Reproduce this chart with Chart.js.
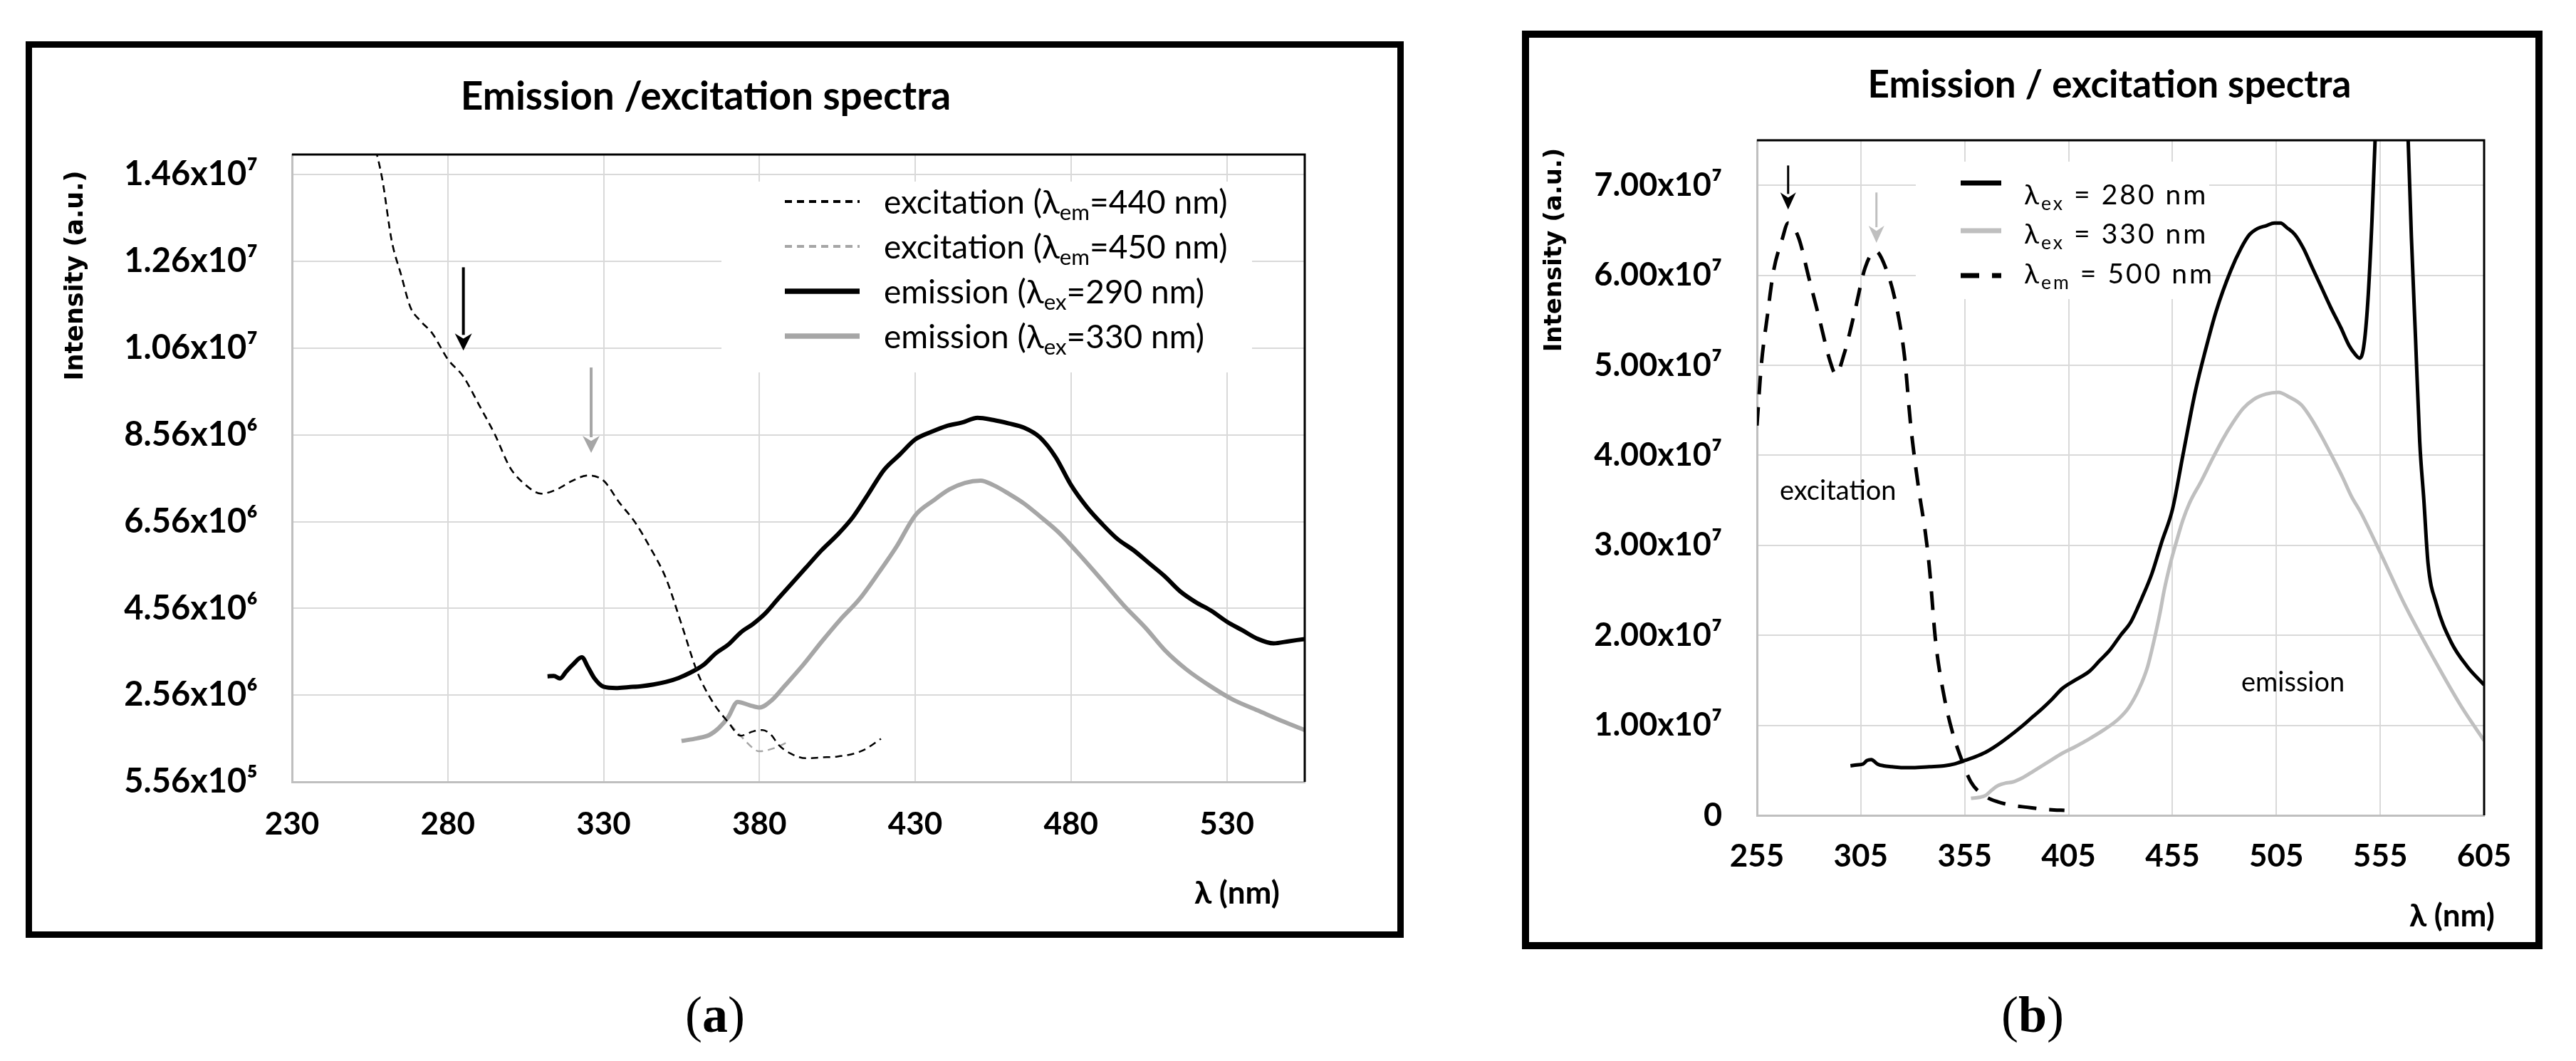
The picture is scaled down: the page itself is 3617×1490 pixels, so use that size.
<!DOCTYPE html>
<html>
<head>
<meta charset="utf-8">
<script src="https://cdn.jsdelivr.net/npm/chart.js@4.4.1/dist/chart.umd.min.js"></script>
<style>
  html, body { margin: 0; padding: 0; background: #fff; }
  body { width: 3617px; height: 1490px; position: relative; overflow: hidden; }
  .panel { position: absolute; border: 9px solid #000; background: #fff; }
  #panelA { left: 36px; top: 58px; width: 1917px; height: 1241px; }
  #panelB { left: 2137px; top: 43px; width: 1413px; height: 1270px; border-width: 10px; }
  .panel canvas { display: block; }
  .tag { position: absolute; top: 1384px; width: 200px; line-height: 84px; text-align: center;
         font: 72px "Liberation Serif", "DejaVu Serif", serif; color: #000; }
  #tagA { left: 904px; }
  #tagB { left: 2754px; }
</style>
</head>
<body>
<div class="panel" id="panelA"><canvas id="chartA" width="1917" height="1241" style="width:1917px;height:1241px"></canvas></div>
<div class="panel" id="panelB"><canvas id="chartB" width="1413" height="1270" style="width:1413px;height:1270px"></canvas></div>
<div class="tag" id="tagA">(<b>a</b>)</div>
<div class="tag" id="tagB">(<b>b</b>)</div>
<script>
// ---- panel (a) ----
const xTicksA = [230, 280, 330, 380, 430, 480, 530];
const yTicksA = [5.56e5, 2.556e6, 4.556e6, 6.556e6, 8.556e6, 1.0556e7, 1.2556e7, 1.4556e7];
const yTickLabelsA = ['5.56x10⁵', '2.56x10⁶', '4.56x10⁶', '6.56x10⁶', '8.56x10⁶', '1.06x10⁷', '1.26x10⁷', '1.46x10⁷'];

const excA440Nm = [256, 259, 262, 265, 268, 271, 275, 280, 285, 290, 295, 300, 305, 310, 315, 320, 325, 330, 335, 340,
  345, 350, 355, 360, 365, 370, 374, 378, 381, 384, 386, 390, 395, 400, 405, 410, 414, 419];
const excA440Val = [15.4e6, 14.44e6, 13.03e6, 12.25e6, 11.5e6, 11.2e6, 10.9e6, 10.3e6, 9.9e6, 9.25e6, 8.58e6, 7.8e6, 7.4e6, 7.2e6, 7.3e6, 7.5e6, 7.62e6, 7.5e6, 7.0e6, 6.55e6,
  5.95e6, 5.25e6, 4.19e6, 3.1e6, 2.4e6, 1.93e6, 1.62e6, 1.72e6, 1.75e6, 1.62e6, 1.42e6, 1.21e6, 1.1e6, 1.12e6, 1.14e6, 1.2e6, 1.31e6, 1.55e6];

const excA450Nm = [256, 259, 262, 265, 268, 271, 275, 280, 285, 290, 295, 300, 305, 310, 315, 320, 325, 330, 335, 340,
  345, 350, 355, 360, 365, 370, 374, 376, 380, 385, 389];
const excA450Val = [15.4e6, 14.44e6, 13.03e6, 12.25e6, 11.5e6, 11.2e6, 10.9e6, 10.3e6, 9.9e6, 9.25e6, 8.58e6, 7.8e6, 7.4e6, 7.2e6, 7.3e6, 7.5e6, 7.62e6, 7.5e6, 7.0e6, 6.55e6,
  5.95e6, 5.25e6, 4.19e6, 3.1e6, 2.4e6, 1.93e6, 1.62e6, 1.46e6, 1.26e6, 1.34e6, 1.47e6];

const emA290Nm = [312, 314, 316, 318, 320, 323, 325, 327, 330, 334, 338, 342, 346, 350, 354, 358, 362, 366, 370, 374,
  378, 382, 386, 390, 395, 400, 405, 410, 415, 420, 425, 430, 435, 440, 445, 450, 455, 460, 465, 470,
  475, 480, 485, 490, 495, 500, 505, 510, 515, 520, 525, 530, 535, 540, 545, 550, 555];
const emA290Val = [2.99e6, 3.0e6, 2.94e6, 3.1e6, 3.25e6, 3.43e6, 3.2e6, 2.95e6, 2.75e6, 2.72e6, 2.74e6, 2.76e6, 2.8e6, 2.86e6, 2.95e6, 3.08e6, 3.25e6, 3.52e6, 3.72e6, 4.0e6,
  4.2e6, 4.45e6, 4.78e6, 5.1e6, 5.5e6, 5.9e6, 6.25e6, 6.66e6, 7.2e6, 7.75e6, 8.1e6, 8.45e6, 8.62e6, 8.76e6, 8.84e6, 8.95e6, 8.9e6, 8.82e6, 8.72e6, 8.5e6,
  8.05e6, 7.4e6, 6.9e6, 6.5e6, 6.15e6, 5.9e6, 5.6e6, 5.3e6, 4.95e6, 4.7e6, 4.5e6, 4.25e6, 4.05e6, 3.85e6, 3.75e6, 3.8e6, 3.85e6];

const emA330Nm = [355, 360, 364, 367, 370, 373, 377, 380, 384, 388, 394, 400, 406, 412, 418, 424, 430, 436, 441, 446,
  451, 455, 460, 465, 470, 476, 482, 490, 497, 504, 510, 517, 525, 532, 540, 548, 555];
const emA330Val = [1.5e6, 1.56e6, 1.64e6, 1.8e6, 2.05e6, 2.4e6, 2.32e6, 2.27e6, 2.44e6, 2.76e6, 3.25e6, 3.79e6, 4.3e6, 4.76e6, 5.35e6, 5.98e6, 6.7e6, 7.05e6, 7.3e6, 7.45e6,
  7.5e6, 7.4e6, 7.2e6, 6.97e6, 6.68e6, 6.31e6, 5.85e6, 5.2e6, 4.62e6, 4.1e6, 3.6e6, 3.15e6, 2.75e6, 2.45e6, 2.2e6, 1.95e6, 1.75e6];

const arrowXA = [285, 326];
const arrowFromA = [12.42e6, 10.11e6];
const arrowToA = [10.5e6, 8.14e6];

// ---- panel (b) ----
const xTicksB = [255, 305, 355, 405, 455, 505, 555, 605];
const yTicksB = [0, 1e7, 2e7, 3e7, 4e7, 5e7, 6e7, 7e7];
const yTickLabelsB = ['0', '1.00x10⁷', '2.00x10⁷', '3.00x10⁷', '4.00x10⁷', '5.00x10⁷', '6.00x10⁷', '7.00x10⁷'];

const emB280Nm = [300, 303, 306, 308, 310, 313, 316, 320, 325, 330, 338, 345, 350, 355, 360, 365, 370, 376, 382, 388,
  392, 397, 402, 408, 415, 420, 425, 430, 435, 440, 445, 450, 455, 460, 466, 471, 476, 483, 488, 492,
  496, 500, 504, 507, 510, 514, 518, 522, 527, 531, 536, 540, 543, 545, 547, 549, 551, 553, 560, 568,
  570, 572, 574, 576, 578, 582, 589, 597, 605];
const emB280Val = [0.55e7, 0.56e7, 0.57e7, 0.61e7, 0.62e7, 0.57e7, 0.55e7, 0.54e7, 0.53e7, 0.53e7, 0.54e7, 0.55e7, 0.57e7, 0.61e7, 0.65e7, 0.7e7, 0.77e7, 0.87e7, 0.98e7, 1.1e7,
  1.18e7, 1.29e7, 1.41e7, 1.5e7, 1.6e7, 1.72e7, 1.84e7, 2.0e7, 2.15e7, 2.4e7, 2.68e7, 3.05e7, 3.4e7, 4.0e7, 4.71e7, 5.18e7, 5.6e7, 6.05e7, 6.3e7, 6.45e7,
  6.52e7, 6.55e7, 6.58e7, 6.58e7, 6.53e7, 6.45e7, 6.3e7, 6.1e7, 5.85e7, 5.65e7, 5.42e7, 5.22e7, 5.12e7, 5.08e7, 5.2e7, 5.7e7, 6.6e7, 7.8e7, 12.0e7, 7.8e7,
  6.42e7, 5.29e7, 4.15e7, 3.5e7, 2.8e7, 2.35e7, 1.93e7, 1.65e7, 1.45e7];

const emB330Nm = [358, 362, 365, 368, 371, 375, 378, 383, 388, 395, 402, 408, 415, 422, 429, 434, 439, 443, 446, 449,
  451, 454, 457, 460, 463, 469, 474, 479, 484, 489, 494, 500, 506, 511, 517, 522, 527, 532, 537, 541,
  546, 555, 567, 581, 594, 605];
const emB330Val = [0.19e7, 0.2e7, 0.22e7, 0.28e7, 0.33e7, 0.36e7, 0.37e7, 0.42e7, 0.49e7, 0.59e7, 0.69e7, 0.76e7, 0.85e7, 0.95e7, 1.07e7, 1.2e7, 1.41e7, 1.65e7, 1.93e7, 2.25e7,
  2.5e7, 2.8e7, 3.05e7, 3.28e7, 3.46e7, 3.72e7, 3.95e7, 4.17e7, 4.36e7, 4.52e7, 4.62e7, 4.68e7, 4.7e7, 4.65e7, 4.56e7, 4.4e7, 4.2e7, 3.98e7, 3.75e7, 3.55e7,
  3.35e7, 2.92e7, 2.33e7, 1.73e7, 1.21e7, 0.83e7];

const excB500Nm = [255, 257, 260, 263, 267, 270, 275, 280, 285, 290, 293, 297, 302, 307, 312, 317, 322, 326, 329, 333,
  336, 338, 341, 345, 349, 353, 358, 365, 371, 378, 385, 392, 398, 403];
const excB500Val = [4.33e7, 4.98e7, 5.55e7, 6.05e7, 6.39e7, 6.58e7, 6.42e7, 5.97e7, 5.52e7, 5.06e7, 4.9e7, 5.13e7, 5.59e7, 6.08e7, 6.27e7, 6.08e7, 5.67e7, 5.1e7, 4.33e7, 3.6e7,
  3.15e7, 2.75e7, 1.93e7, 1.33e7, 0.93e7, 0.65e7, 0.37e7, 0.21e7, 0.15e7, 0.11e7, 0.09e7, 0.07e7, 0.06e7, 0.055e7];

const arrowXB = [270, 312.5];
const arrowFromB = [7.22e7, 6.92e7];
const arrowToB = [6.73e7, 6.36e7];

const pts = (xs, ys) => xs.map((x, i) => ({ x, y: ys[i] }));

// text with _{sub} parts, vertically centred on cap height
function drawRich(ctx, str, x, yMid, f) {
  const parts = str.split(/(_\{[^}]*\})/).filter(Boolean);
  const base = yMid + f.size * 0.36;
  let cx = x;
  ctx.textAlign = 'left';
  ctx.textBaseline = 'alphabetic';
  ctx.letterSpacing = (f.spacing || 0) + 'px';
  for (const p of parts) {
    const sub = p.startsWith('_{');
    const t = sub ? p.slice(2, -1) : p;
    const size = sub ? f.size * 0.68 : f.size;
    ctx.font = `${f.weight || 'normal'} ${size}px ${f.family}`;
    ctx.fillText(t, cx, base + (sub ? f.size * 0.2 : 0));
    cx += ctx.measureText(t).width;
  }
  ctx.letterSpacing = '0px';
}

const decor = {
  id: 'decor',
  beforeDatasetsDraw(chart, args, o) {
    const ctx = chart.ctx, lg = o.legend;
    ctx.save();
    ctx.fillStyle = '#fff';
    ctx.fillRect(lg.box[0], lg.box[1], lg.box[2], lg.box[3]);
    chart.data.datasets.forEach((ds, i) => {
      const y = lg.sampleY[i];
      ctx.strokeStyle = ds.borderColor;
      ctx.lineWidth = ds.borderWidth + lg.sampleExtra;
      ctx.setLineDash(ds.borderDash || []);
      ctx.beginPath();
      ctx.moveTo(lg.sampleX[0], y);
      ctx.lineTo(lg.sampleX[1], y);
      ctx.stroke();
      ctx.setLineDash([]);
      ctx.fillStyle = '#000';
      drawRich(ctx, ds.label, lg.textX, lg.textY[i], lg.font);
    });
    ctx.restore();
  },
  afterDatasetsDraw(chart, args, o) {
    const ctx = chart.ctx, a = chart.chartArea;
    const xs = chart.scales.x, ys = chart.scales.y;
    ctx.save();
    ctx.strokeStyle = '#000';
    ctx.lineWidth = 3;
    ctx.beginPath();
    ctx.moveTo(a.left, a.top); ctx.lineTo(a.right, a.top); ctx.lineTo(a.right, a.bottom);
    ctx.stroke();
    const ar = o.arrows;
    ar.x.forEach((xv, i) => {
      const px = xs.getPixelForValue(xv);
      const y1 = ys.getPixelForValue(ar.from[i]);
      const y2 = ys.getPixelForValue(ar.to[i]);
      ctx.strokeStyle = ar.colors[i];
      ctx.fillStyle = ar.colors[i];
      ctx.lineWidth = ar.width;
      ctx.beginPath(); ctx.moveTo(px, y1); ctx.lineTo(px, y2 - ar.head[1] + 2); ctx.stroke();
      ctx.beginPath();
      ctx.moveTo(px - ar.head[0] / 2, y2 - ar.head[1]);
      ctx.lineTo(px, y2 - ar.head[1] * 0.7);
      ctx.lineTo(px + ar.head[0] / 2, y2 - ar.head[1]);
      ctx.lineTo(px, y2);
      ctx.closePath();
      ctx.fill();
    });
    (o.notes || []).forEach(n => {
      ctx.fillStyle = '#000';
      ctx.font = `${n.size}px Lato`;
      ctx.textAlign = 'center';
      ctx.textBaseline = 'middle';
      ctx.fillText(n.text, xs.getPixelForValue(n.x), ys.getPixelForValue(n.y));
    });
    ctx.restore();
  },
  afterDraw(chart, args, o) {
    const ctx = chart.ctx;
    ctx.save();
    ctx.fillStyle = '#000';
    ctx.font = `bold ${o.title.size}px Lato`;
    ctx.textAlign = 'center';
    ctx.textBaseline = 'middle';
    ctx.fillText(o.title.text, o.title.x, o.title.y);
    ctx.font = `bold ${o.xTitle.size}px Lato`;
    ctx.textAlign = 'left';
    ctx.fillText(o.xTitle.text, o.xTitle.x, o.xTitle.y);
    ctx.translate(o.yTitle.x, o.yTitle.y);
    ctx.rotate(-Math.PI / 2);
    ctx.font = `bold ${o.yTitle.size}px "DejaVu Sans"`;
    ctx.textAlign = 'center';
    ctx.fillText(o.yTitle.text, 0, 0);
    ctx.restore();
  }
};

function spectrumChart(id, o) {
  return new Chart(document.getElementById(id), {
    type: 'line',
    data: { datasets: o.datasets },
    options: {
      responsive: false,
      animation: false,
      devicePixelRatio: 1,
      layout: { padding: o.padding },
      elements: { point: { radius: 0 }, line: { cubicInterpolationMode: 'monotone', borderCapStyle: 'butt' } },
      plugins: { legend: { display: false }, tooltip: { enabled: false }, decor: o.decor },
      scales: {
        x: {
          type: 'linear', min: o.xMin, max: o.xMax,
          afterBuildTicks: s => { s.ticks = o.xTicks.map(v => ({ value: v })); },
          afterFit: s => { s.height = o.xAxisHeight; },
          grid: { color: '#d9d9d9', lineWidth: 2, drawTicks: false },
          border: { color: '#bfbfbf', width: 3 },
          ticks: { autoSkip: false, maxRotation: 0, padding: o.xTickPad, color: '#000',
                   font: { family: 'Lato', weight: 'bold', size: o.xTickSize },
                   callback: (v, i) => String(o.xTicks[i]) }
        },
        y: {
          type: 'linear', min: o.yMin, max: o.yMax,
          afterBuildTicks: s => { s.ticks = o.yTicks.map(v => ({ value: v })); },
          afterFit: s => { s.width = o.yAxisWidth; },
          grid: { color: '#d9d9d9', lineWidth: 2, drawTicks: false },
          border: { color: '#bfbfbf', width: 3 },
          ticks: { autoSkip: false, padding: o.yTickPad, color: '#000',
                   font: { family: 'Lato', weight: 'bold', size: o.yTickSize },
                   callback: (v, i) => o.yTickLabels[i] }
        }
      }
    },
    plugins: [decor]
  });
}

spectrumChart('chartA', {
  xMin: 230, xMax: 555, yMin: 5.56e5, yMax: 1.502e7,
  xTicks: xTicksA, yTicks: yTicksA, yTickLabels: yTickLabelsA,
  padding: { left: 0, top: 150, right: 130, bottom: 0 },
  xAxisHeight: 210, yAxisWidth: 365, xTickPad: 33, yTickPad: 48, xTickSize: 44, yTickSize: 47,
  datasets: [
    { label: 'excitation (λ_{em}=440 nm)', data: pts(excA440Nm, excA440Val), borderColor: '#000', borderWidth: 2.5, borderDash: [10, 7] },
    { label: 'excitation (λ_{em}=450 nm)', data: pts(excA450Nm, excA450Val), borderColor: '#a6a6a6', borderWidth: 2.5, borderDash: [10, 7] },
    { label: 'emission (λ_{ex}=290 nm)', data: pts(emA290Nm, emA290Val), borderColor: '#000', borderWidth: 6 },
    { label: 'emission (λ_{ex}=330 nm)', data: pts(emA330Nm, emA330Val), borderColor: '#a6a6a6', borderWidth: 6 }
  ],
  decor: {
    title: { text: 'Emission /excitation spectra', x: 946, y: 69, size: 55 },
    yTitle: { text: 'Intensity (a.u.)', x: 62, y: 320, size: 35 },
    xTitle: { text: 'λ (nm)', x: 1632, y: 1188, size: 44 },
    legend: { box: [968, 188, 745, 268], sampleX: [1057, 1162], sampleY: [216, 279, 342, 405], sampleExtra: 1.5,
              textX: 1196, textY: [216, 279, 342, 405], font: { family: 'Lato', size: 46 } },
    arrows: { x: arrowXA, from: arrowFromA, to: arrowToA, colors: ['#000', '#a6a6a6'], width: 4, head: [24, 24] }
  }
});

spectrumChart('chartB', {
  xMin: 255, xMax: 605, yMin: 0, yMax: 7.5e7,
  xTicks: xTicksB, yTicks: yTicksB, yTickLabels: yTickLabelsB,
  padding: { left: 0, top: 144, right: 72, bottom: 0 },
  xAxisHeight: 178, yAxisWidth: 320, xTickPad: 31, yTickPad: 49, xTickSize: 44, yTickSize: 45,
  datasets: [
    { label: 'λ_{ex} = 280 nm', data: pts(emB280Nm, emB280Val), borderColor: '#000', borderWidth: 5 },
    { label: 'λ_{ex} = 330 nm', data: pts(emB330Nm, emB330Val), borderColor: '#bfbfbf', borderWidth: 5 },
    { label: 'λ_{em} = 500 nm', data: pts(excB500Nm, excB500Val), borderColor: '#000', borderWidth: 5, borderDash: [26, 18] }
  ],
  decor: {
    title: { text: 'Emission / excitation spectra', x: 815, y: 67, size: 53 },
    yTitle: { text: 'Intensity (a.u.)', x: 36, y: 298, size: 34 },
    xTitle: { text: 'λ (nm)', x: 1236, y: 1234, size: 44 },
    legend: { box: [543, 174, 412, 193], sampleX: [606, 663], sampleY: [204, 271, 334], sampleExtra: 2,
              textX: 695, textY: [220, 275, 331], font: { family: 'Lato', size: 39, spacing: 3 } },
    arrows: { x: arrowXB, from: arrowFromB, to: arrowToB, colors: ['#000', '#bfbfbf'], width: 3, head: [22, 24] },
    notes: [
      { text: 'excitation', x: 294, y: 3.6e7, size: 38 },
      { text: 'emission', x: 513, y: 1.47e7, size: 38 }
    ]
  }
});
</script>
</body>
</html>
